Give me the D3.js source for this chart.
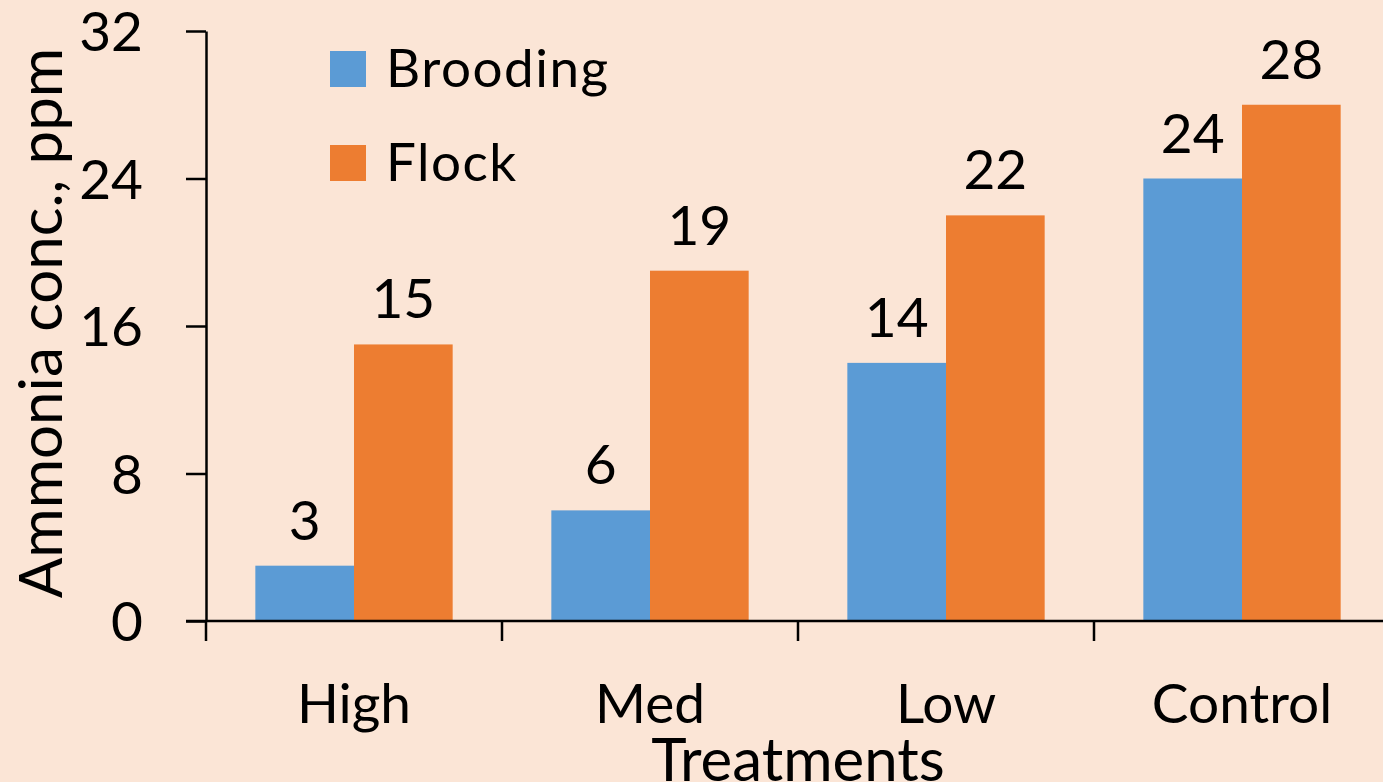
<!DOCTYPE html>
<html>
<head>
<meta charset="utf-8">
<script src="https://cdn.jsdelivr.net/npm/d3@7"></script>
<style>
  html, body { margin: 0; padding: 0; background: #FBE5D6; }
  svg { display: block; }
  text { font-family: Lato, "Liberation Sans", sans-serif; fill: #000; }
</style>
</head>
<body>
<svg id="chart" width="1383" height="782"></svg>
<script>
// Ammonia concentration by treatment, brooding vs. flock period
const categories = ["High", "Med", "Low", "Control"];
const seriesNames = ["Brooding", "Flock"];
const brooding = [3, 6, 14, 24];
const flock = [15, 19, 22, 28];
const yTicks = [0, 8, 16, 24, 32];
const colors = ["#5B9BD5", "#ED7D31"];

const values = [brooding, flock];
const rows = categories.map((c, i) => ({
  category: c,
  bars: seriesNames.map((s, j) => ({ series: s, value: values[j][i], color: colors[j] }))
}));

const svg = d3.select("#chart");
const plotLeft = 206, plotRight = 1390, plotTop = 31, plotBottom = 621;

const x = d3.scaleBand().domain(categories).range([plotLeft, plotRight]).paddingInner(0).paddingOuter(0);
const xs = d3.scaleBand().domain(seriesNames).range([0, x.bandwidth()]).paddingInner(0).paddingOuter(0.5);
const y = d3.scaleLinear().domain([0, 32]).range([plotBottom, plotTop]);

// bars
const groups = svg.append("g").selectAll("g").data(rows).join("g")
  .attr("transform", d => `translate(${x(d.category)},0)`);

groups.selectAll("rect").data(d => d.bars).join("rect")
  .attr("x", d => xs(d.series))
  .attr("y", d => y(d.value))
  .attr("width", xs.bandwidth())
  .attr("height", d => y(0) - y(d.value))
  .attr("fill", d => d.color);

// value labels
groups.selectAll("text.val").data(d => d.bars).join("text")
  .attr("class", "val")
  .attr("x", d => xs(d.series) + xs.bandwidth() / 2)
  .attr("y", d => y(d.value) - 26)
  .attr("text-anchor", "middle")
  .attr("font-size", 55)
  .text(d => d.value);

// y axis
const yAxis = svg.append("g")
  .attr("transform", `translate(${plotLeft},0)`)
  .call(d3.axisLeft(y).tickValues(yTicks).tickSize(20).tickSizeOuter(0).tickPadding(43));
yAxis.select(".domain").attr("stroke", "#000").attr("stroke-width", 2.5);
yAxis.selectAll(".tick line").attr("stroke", "#000").attr("stroke-width", 2.5);
yAxis.selectAll(".tick text")
  .attr("font-size", 55)
  .attr("font-family", "Lato, 'Liberation Sans', sans-serif")
  .attr("fill", "#000")
  .attr("dy", "0.36em");

// x axis baseline and category separators
svg.append("line")
  .attr("x1", plotLeft - 20).attr("x2", 1383)
  .attr("y1", y(0)).attr("y2", y(0))
  .attr("stroke", "#000").attr("stroke-width", 2.5);

const bounds = categories.map(c => x(c)).concat([x(categories[categories.length - 1]) + x.bandwidth()]);
svg.append("g").selectAll("line").data(bounds).join("line")
  .attr("x1", d => d).attr("x2", d => d)
  .attr("y1", y(0)).attr("y2", y(0) + 20)
  .attr("stroke", "#000").attr("stroke-width", 2.5);

// category labels
svg.append("g").selectAll("text").data(categories).join("text")
  .attr("x", d => x(d) + x.bandwidth() / 2)
  .attr("y", 723)
  .attr("text-anchor", "middle")
  .attr("font-size", 55)
  .text(d => d);

// axis titles
svg.append("text")
  .attr("x", (plotLeft + plotRight) / 2)
  .attr("y", 781)
  .attr("text-anchor", "middle")
  .attr("font-size", 60)
  .text("Treatments");

svg.append("text")
  .attr("transform", `translate(62,${(plotTop + plotBottom) / 2 - 3}) rotate(-90)`)
  .attr("text-anchor", "middle")
  .attr("font-size", 60)
  .text("Ammonia conc., ppm");

// legend
const legend = svg.append("g").selectAll("g").data(seriesNames).join("g")
  .attr("transform", (d, i) => `translate(330,${51 + i * 94})`);
legend.append("rect")
  .attr("width", 36).attr("height", 36)
  .attr("fill", (d, i) => colors[i]);
legend.append("text")
  .attr("x", 56).attr("y", 36)
  .attr("font-size", 53)
  .attr("letter-spacing", 1.5)
  .text(d => d);
</script>
</body>
</html>
